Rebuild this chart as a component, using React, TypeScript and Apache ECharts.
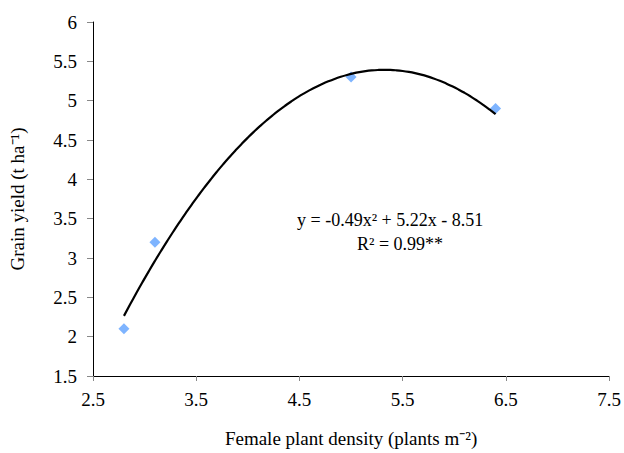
import React, { useEffect, useRef } from "react";
import * as echarts from "echarts";

const densities = [2.8, 3.1, 5.0, 6.4];
const yields = [2.1, 3.2, 5.3, 4.9];
// Trendline coefficients as printed on the chart: y = a x^2 + b x + c
const trendCoef = [-0.49, 5.22, -8.51];
const trendRange = [2.8, 6.4];
const equationLines = ["y = -0.49x² + 5.22x - 8.51", "R² = 0.99**"];
const xTicks = [2.5, 3.5, 4.5, 5.5, 6.5, 7.5];
const yTicks = [1.5, 2, 2.5, 3, 3.5, 4, 4.5, 5, 5.5, 6];

const FONT = "'Liberation Serif', 'Times New Roman', serif";

export default function App() {
  const ref = useRef<HTMLDivElement>(null);
  useEffect(() => {
    if (!ref.current) return;
    const chart = echarts.init(ref.current, null, { renderer: "svg" });
    const n = 60;
    const trend: number[][] = [];
    for (let i = 0; i <= n; i++) {
      const x = trendRange[0] + ((trendRange[1] - trendRange[0]) * i) / n;
      trend.push([x, trendCoef[0] * x * x + trendCoef[1] * x + trendCoef[2]]);
    }
    chart.setOption({
      animation: false,
      backgroundColor: "#fff",
      grid: { left: 93, right: 13, top: 22, bottom: 71, containLabel: false },
      xAxis: {
        type: "value",
        min: xTicks[0],
        max: xTicks[xTicks.length - 1],
        interval: 1,
        name: "Female plant density (plants m⁻²)",
        nameLocation: "middle",
        nameGap: 53,
        nameTextStyle: { fontFamily: FONT, fontSize: 19, color: "#000" },
        axisLine: { show: true, lineStyle: { color: "#000", width: 1 } },
        axisTick: { show: true, length: 5, lineStyle: { color: "#888" } },
        axisLabel: {
          fontFamily: FONT,
          fontSize: 19,
          color: "#000",
          margin: 14,
          formatter: (v: number) => v.toFixed(1),
        },
        splitLine: { show: false },
      },
      yAxis: {
        type: "value",
        min: yTicks[0],
        max: yTicks[yTicks.length - 1],
        interval: 0.5,
        name: "Grain yield (t ha⁻¹)",
        nameLocation: "middle",
        nameGap: 66,
        nameTextStyle: { fontFamily: FONT, fontSize: 19, color: "#000" },
        axisLine: { show: true, lineStyle: { color: "#000", width: 1 } },
        axisTick: { show: true, length: 6, lineStyle: { color: "#888" } },
        axisLabel: {
          fontFamily: FONT,
          fontSize: 19,
          color: "#000",
          margin: 16,
          formatter: (v: number) => String(v),
        },
        splitLine: { show: false },
      },
      series: [
        {
          type: "line",
          data: trend,
          showSymbol: false,
          smooth: true,
          lineStyle: { color: "#000", width: 2.2 },
          z: 3,
        },
        {
          type: "scatter",
          data: densities.map((d, i) => [d, yields[i]]),
          symbol: "diamond",
          symbolSize: 11,
          itemStyle: { color: "#5ea1ff" },
          z: 2,
        },
      ],
      graphic: [
        {
          type: "text",
          left: 297,
          top: 211,
          style: {
            text: equationLines[0],
            font: `18px ${FONT}`,
            fill: "#000",
          },
        },
        {
          type: "text",
          left: 357,
          top: 235,
          style: {
            text: equationLines[1],
            font: `18px ${FONT}`,
            fill: "#000",
          },
        },
      ],
    });
    return () => chart.dispose();
  }, []);
  return (
    <div
      ref={ref}
      style={{ position: "fixed", left: 0, top: 0, width: 624, height: 453 }}
    />
  );
}
